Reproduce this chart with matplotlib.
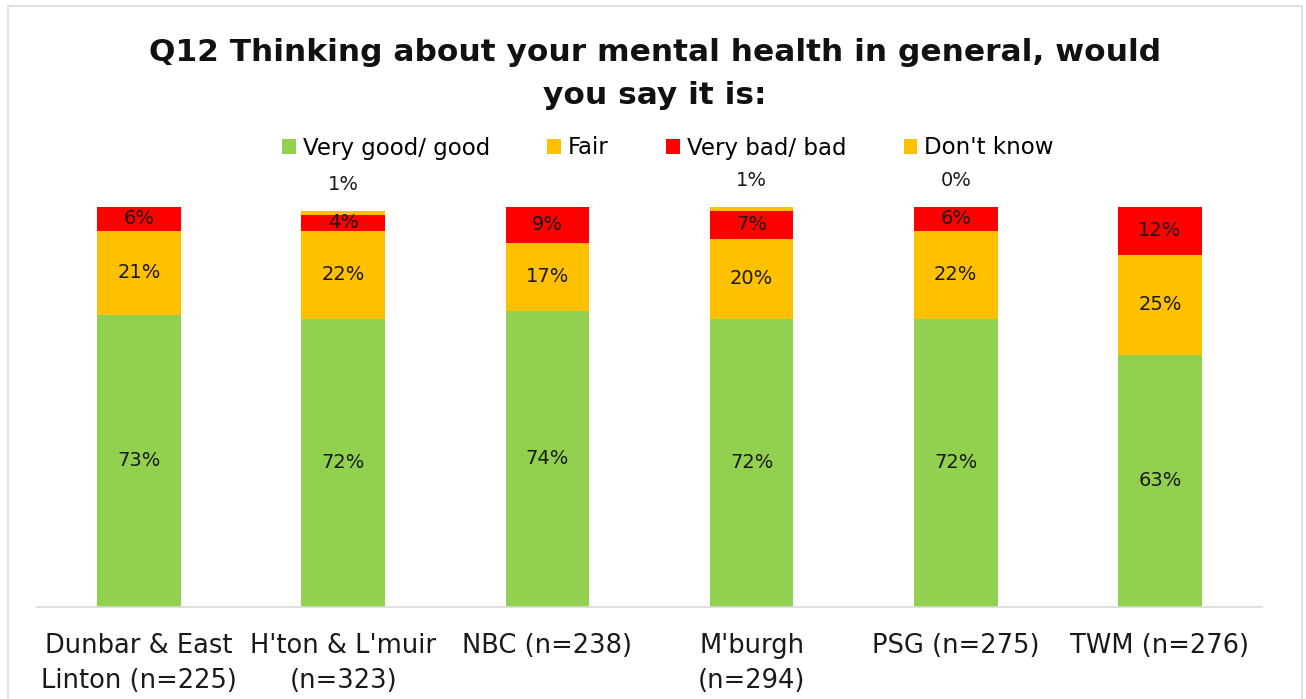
import numpy as np
import matplotlib
matplotlib.use("Agg")
import matplotlib.pyplot as plt
from matplotlib.patches import Rectangle

# Q12 results per area (percent)
areas = ["Dunbar & East\nLinton (n=225)", "H'ton & L'muir\n(n=323)", "NBC (n=238)",
         "M'burgh\n(n=294)", "PSG (n=275)", "TWM (n=276)"]
very_good = [73, 72, 74, 72, 72, 63]
fair = [21, 22, 17, 20, 22, 25]
very_bad = [6, 4, 9, 7, 6, 12]
dont_know = [None, 1, None, 1, 0, None]

series_names = ["Very good/ good", "Fair", "Very bad/ bad", "Don't know"]
colours = ["#92D050", "#FFC000", "#FF0000", "#FFC000"]

plt.rcParams['font.family'] = ['DejaVu Sans']

fig = plt.figure(figsize=(13.06, 6.99), dpi=100)
ax = fig.add_axes([37 / 1306, 92 / 699, 1225 / 1306, 400 / 699])

x = np.arange(len(areas))
w = 0.41
dk = [0 if v is None else v for v in dont_know]
bottom = np.zeros(len(areas))
bars = []
for vals, name, col in zip([very_good, fair, very_bad, dk], series_names, colours):
    b = ax.bar(x, vals, w, bottom=bottom, color=col, label=name)
    bars.append(b)
    bottom = bottom + np.array(vals)

# value labels inside the segments
for b, vals in zip(bars[:3], [very_good, fair, very_bad]):
    for rect, v in zip(b, vals):
        ax.text(rect.get_x() + rect.get_width() / 2, rect.get_y() + rect.get_height() / 2,
                f"{v}%", ha="center", va="center", fontsize=14, color="#1a1a1a")

# don't know labels sit above the stack
for xi, v, top in zip(x, dont_know, bottom):
    if v is None:
        continue
    ax.annotate(f"{v}%", (xi, top), xytext=(0, 12), textcoords="offset points",
                ha="center", va="bottom", fontsize=14, color="#1a1a1a", annotation_clip=False)

ax.set_xlim(-0.5, len(areas) - 0.5)
ax.set_ylim(0, 100)
ax.set_yticks([])
ax.set_xticks(x)
ax.set_xticklabels(areas, fontsize=18.5, color="#1a1a1a", linespacing=1.45)
ax.tick_params(axis="x", length=0, pad=19)
for s in ["top", "right", "left"]:
    ax.spines[s].set_visible(False)
ax.spines["bottom"].set_color("#D9D9D9")
ax.spines["bottom"].set_linewidth(1.2)

fig.text(655 / 1306, 1 - 74 / 699, "Q12 Thinking about your mental health in general, would\nyou say it is:",
         ha="center", va="center", fontsize=22.5, fontweight="bold", linespacing=1.65, color="#111111")

fig.legend(handles=bars, labels=series_names, loc="center", bbox_to_anchor=(668 / 1306, 1 - 148 / 699),
           ncol=4, frameon=False, fontsize=16.5, handlelength=0.6, handleheight=0.6,
           handletextpad=0.3, columnspacing=2.5)

# chart frame
fig.patches.append(Rectangle((8 / 1306, -0.01), 1294 / 1306, 1 - 6 / 699 + 0.01,
                             transform=fig.transFigure, fill=False, edgecolor="#D9D9D9", lw=1.2))

fig.savefig("out.png", dpi=100)
